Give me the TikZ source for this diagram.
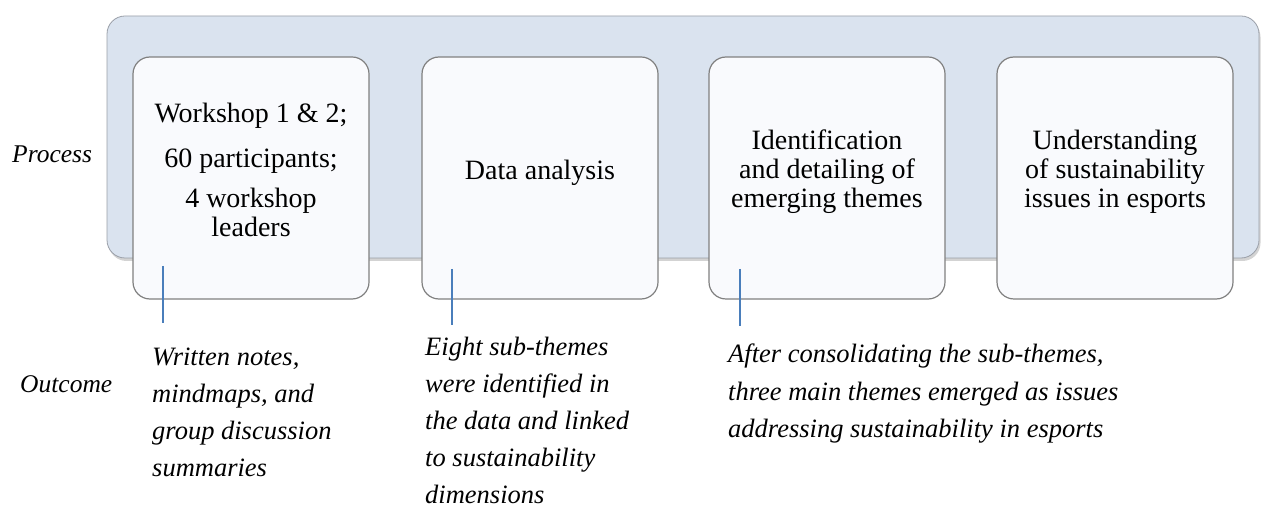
\documentclass[tikz,border=0pt]{standalone}
\usepackage{fontspec}
\setmainfont{Liberation Serif}
\usetikzlibrary{shadows}
\definecolor{panelblue}{HTML}{DAE3EF}
\definecolor{panelline}{HTML}{9A9FA8}
\definecolor{boxfill}{HTML}{F9FAFD}
\definecolor{boxline}{HTML}{808080}
\definecolor{connblue}{HTML}{4A7EBB}
\tikzset{
  panel/.style={draw=panelline, line width=0.8pt, fill=panelblue, rounded corners=18pt,
    drop shadow={shadow xshift=1.5pt, shadow yshift=-3pt, opacity=0.35}},
  stepbox/.style={draw=boxline, line width=1.2pt, fill=boxfill, rounded corners=17pt,
    minimum width=236pt, minimum height=242pt, inner sep=0pt},
  boxtext/.style={align=center, inner sep=0pt, font=\fontsize{28}{29}\selectfont},
  outtext/.style={align=left, inner sep=0pt, anchor=base west, font=\fontsize{26.5}{37}\selectfont\itshape},
  sidelabel/.style={inner sep=0pt, anchor=base west, font=\fontsize{25.5}{30}\selectfont\itshape},
  conn/.style={draw=connblue, line width=1.5pt}
}
\begin{document}
\begin{tikzpicture}[x=1pt, y=-1pt]
\useasboundingbox (0,0) rectangle (1261,510);
% background panel
\path[panel] (107,16) rectangle (1259,258);
% process boxes
\node[stepbox] (b1) at (251,178) {};
\node[stepbox] (b2) at (540,178) {};
\node[stepbox] (b3) at (827,178) {};
\node[stepbox] (b4) at (1115,178) {};
% box texts (base = baseline of last line)
\node[boxtext, anchor=base] (t1) at (251,237) {Workshop 1 \& 2;\\[16pt]60 participants;\\[11pt]4 workshop\\leaders};
\node[boxtext, anchor=base] (t2) at (540,180) {Data analysis};
\node[boxtext, anchor=base] (t3) at (827,208) {Identification\\and detailing of\\emerging themes};
\node[boxtext, anchor=base] (t4) at (1115,208) {Understanding\\of sustainability\\issues in esports};
% side labels
\node[sidelabel] (lp) at (12,163) {Process};
\node[sidelabel] (lo) at (20,392) {Outcome};
% outcome texts
\node[outtext] (o1) at (152,476) {Written notes,\\mindmaps, and\\group discussion\\summaries};
\node[outtext] (o2) at (425,503) {Eight sub-themes\\were identified in\\the data and linked\\to sustainability\\dimensions};
\node[outtext] (o3) at (728,437) {After consolidating the sub-themes,\\three main themes emerged as issues\\addressing sustainability in esports};
% connectors
\coordinate (s1) at (163,266); \coordinate (e1) at (163,323);
\coordinate (s2) at (452,269); \coordinate (e2) at (452,325);
\coordinate (s3) at (740,269); \coordinate (e3) at (740,326);
\draw[conn] (s1) -- (e1);
\draw[conn] (s2) -- (e2);
\draw[conn] (s3) -- (e3);
\end{tikzpicture}
\end{document}
